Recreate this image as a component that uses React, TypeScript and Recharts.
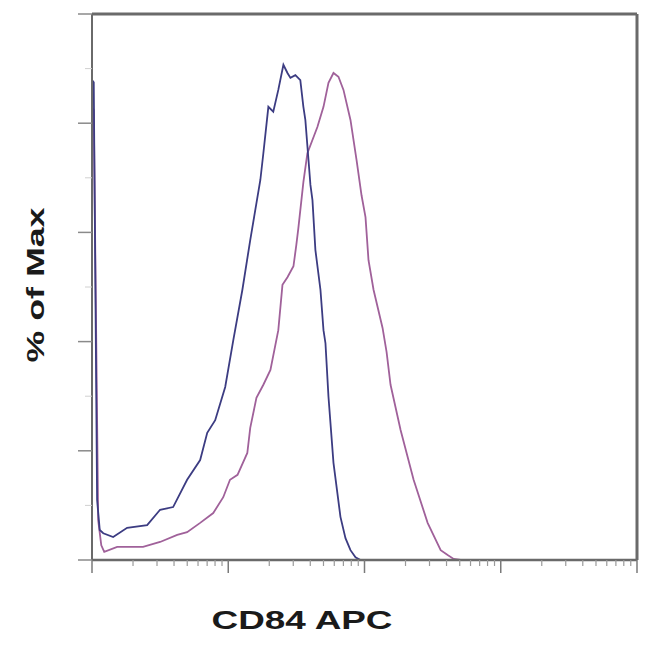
import { Line, LineChart, ReferenceLine, XAxis, YAxis } from 'recharts'

// isotype control (navy)
const blueIntensity = [
  10, 10.3, 10.9, 11.4, 12.1, 14.3, 18.1, 25.4, 31.6, 39.4,
  49.9, 62.2, 70.1, 80.2, 95, 109, 127, 145, 172, 181,
  197, 214, 233, 254, 272, 286, 311, 338, 356, 368,
  388, 401, 415, 436, 475, 500, 517, 544, 592, 666,
  725, 789, 859, 935, 100000,
]
const bluePct = [
  87.9, 87.5, 11.0, 5.5, 4.9, 4.2, 5.9, 6.4, 9.2, 9.7,
  14.7, 18.3, 23.3, 25.6, 31.7, 40.3, 49.5, 58.6, 69.6, 74.5,
  83.0, 82.1, 86.1, 90.7, 89.2, 88.3, 88.8, 87.9, 83.0, 80.6,
  73.3, 68.7, 65.9, 56.8, 49.5, 42.1, 39.7, 29.9, 17.8, 7.9,
  4.0, 1.8, 0.5, 0, 0,
]

// CD84 stained (magenta)
const pinkIntensity = [
  10, 10.3, 11.1, 11.7, 12.3, 15.3, 23.7, 31.6, 42.2, 49.9,
  62.2, 77.6, 91.9, 103, 117, 138, 145, 161, 181, 204,
  233, 250, 272, 301, 316, 327, 356, 381, 451, 500,
  544, 592, 644, 701, 789, 874, 951, 1017, 1070, 1165,
  1357, 1452, 1553, 1840, 2293, 2906, 3623, 4076, 4513, 5080,
  100000,
]
const pinkPct = [
  83.0, 82.4, 7.3, 2.7, 1.5, 2.4, 2.4, 3.3, 4.6, 5.1,
  6.8, 8.6, 11.5, 14.7, 15.6, 19.6, 24.2, 29.7, 32.1, 34.8,
  42.1, 50.4, 51.8, 53.8, 57.7, 60.8, 69.2, 74.5, 79.3, 83.0,
  87.4, 89.2, 88.5, 86.1, 80.6, 73.3, 66.8, 62.8, 54.9, 49.5,
  42.5, 38.1, 32.1, 23.8, 14.7, 6.8, 1.8, 0.9, 0.2, 0,
  0,
]

const majorTicks = [10, 100, 1000, 10000, 100000]
const minorSteps = [2, 3, 4, 5, 6, 7, 8, 9]
const yMajor = [0, 20, 40, 60, 80, 100]
const yMinor = [10, 30, 50, 70, 90]

const xTicks = [
  ...majorTicks,
  ...majorTicks.slice(0, -1).flatMap((d) => minorSteps.map((m) => m * d)),
].sort((a, b) => a - b)
const yTicks = [...yMajor, ...yMinor].sort((a, b) => a - b)

const blueData = blueIntensity.map((x, i) => ({ x, y: bluePct[i] }))
const pinkData = pinkIntensity.map((x, i) => ({ x, y: pinkPct[i] }))

const AXIS = '#6a6a6a'

function XTick(props: any) {
  const { x, y, payload } = props
  const major = majorTicks.includes(payload.value)
  return (
    <line x1={x} x2={x} y1={y} y2={y + (major ? 13 : 6)}
      stroke={major ? '#7a7a7a' : '#9a9a9a'} strokeWidth={major ? 1.5 : 1.2} />
  )
}

function YTick(props: any) {
  const { x, y, payload } = props
  const major = yMajor.includes(payload.value)
  return (
    <line x1={x - (major ? 14 : 7)} x2={x} y1={y} y2={y}
      stroke={major ? '#8a8a8a' : '#d0d0d0'} strokeWidth={major ? 1.5 : 1} />
  )
}

export default function App() {
  return (
    <div style={{ position: 'absolute', left: 0, top: 0, background: '#fff' }}>
      <LineChart width={650} height={645}
        margin={{ top: 14, right: 13, left: 0, bottom: 0 }}>
        <XAxis dataKey="x" type="number" scale="log" domain={[10, 100000]}
          allowDataOverflow ticks={xTicks} interval={0} height={85}
          tickSize={0} tickMargin={0} tickLine={false} tick={<XTick />}
          axisLine={{ stroke: AXIS, strokeWidth: 2.5 }}
          label={{
            content: () => (
              <text x={302} y={629} textAnchor="middle" fontSize={26}
                fontWeight="bold" fill="#1a1a1a" textLength={181}
                lengthAdjust="spacingAndGlyphs"
                fontFamily="Liberation Sans, Arial, sans-serif">
                CD84 APC
              </text>
            ),
          }} />
        <YAxis type="number" domain={[0, 100]} ticks={yTicks} interval={0}
          width={92} tickSize={0} tickMargin={0} tickLine={false}
          tick={<YTick />} axisLine={{ stroke: AXIS, strokeWidth: 2 }}
          label={{
            content: () => (
              <text x={44} y={285} transform="rotate(-90 44 285)"
                textAnchor="middle" fontSize={24} fontWeight="bold"
                fill="#1a1a1a" textLength={155} lengthAdjust="spacingAndGlyphs"
                fontFamily="Liberation Sans, Arial, sans-serif">
                % of Max
              </text>
            ),
          }} />
        <ReferenceLine y={100} stroke={AXIS} strokeWidth={3} />
        <ReferenceLine x={100000} stroke={AXIS} strokeWidth={3} />
        <Line data={pinkData} dataKey="y" type="linear" stroke="#a0619a"
          strokeWidth={1.8} dot={false} isAnimationActive={false} />
        <Line data={blueData} dataKey="y" type="linear" stroke="#3c3c82"
          strokeWidth={1.8} dot={false} isAnimationActive={false} />
      </LineChart>
    </div>
  )
}
